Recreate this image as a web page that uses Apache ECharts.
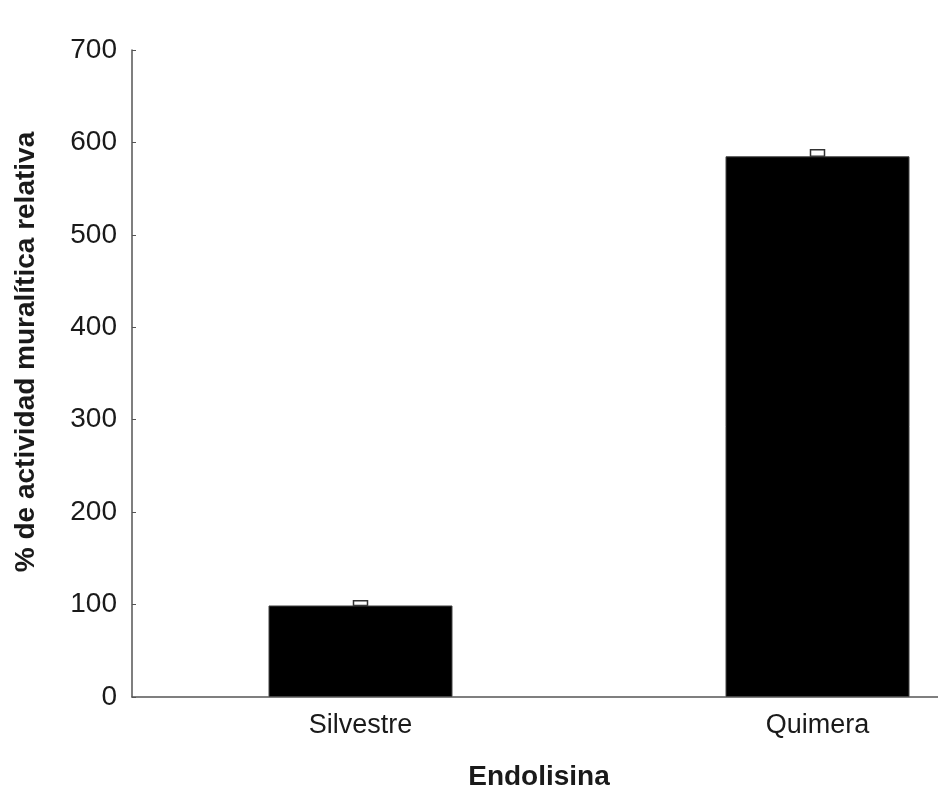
<!DOCTYPE html>
<html>
<head>
<meta charset="utf-8">
<script src="https://cdn.jsdelivr.net/npm/echarts@6/dist/echarts.min.js"></script>
<style>
  html, body { margin: 0; padding: 0; background: #fff; overflow: hidden; }
  /* the plot runs past the right edge of the picture, so the canvas is wider than the window */
  #chart { width: 1046px; height: 799px; }
</style>
</head>
<body>
<div id="chart"></div>
<script>
// data
var categories = ["Silvestre", "Quimera"];
var actividad = [99, 585];
var errores = [5, 7];
var yTicks = [0, 100, 200, 300, 400, 500, 600, 700];

var chart = echarts.init(document.getElementById("chart"));

var errData = categories.map(function (c, i) {
  return [i, actividad[i], actividad[i] + errores[i]];
});

chart.setOption({
  backgroundColor: "#fff",
  animation: false,
  grid: {
    left: 132,
    top: 50,
    bottom: 102,
    right: 0
  },
  xAxis: {
    type: "category",
    data: categories,
    axisLine: { lineStyle: { color: "#555", width: 1.5 } },
    axisTick: { show: false },
    axisLabel: {
      color: "#1a1a1a",
      fontSize: 27,
      fontFamily: "Liberation Sans, Arial",
      margin: 15
    }
  },
  yAxis: {
    type: "value",
    min: yTicks[0],
    max: yTicks[yTicks.length - 1],
    interval: 100,
    splitLine: { show: false },
    axisLine: { show: true, lineStyle: { color: "#555", width: 1.5 } },
    axisTick: { show: true, inside: true, length: 4, lineStyle: { color: "#555" } },
    axisLabel: {
      color: "#1a1a1a",
      fontSize: 28,
      fontFamily: "Liberation Sans, Arial",
      margin: 15
    }
  },
  graphic: [
    {
      type: "text",
      x: 26,
      y: 352,
      rotation: Math.PI / 2,
      style: {
        text: "% de actividad muralítica relativa",
        fill: "#1a1a1a",
        font: "bold 28px 'Liberation Sans', Arial",
        align: "center",
        verticalAlign: "middle"
      }
    },
    {
      type: "text",
      x: 539,
      y: 777,
      style: {
        text: "Endolisina",
        fill: "#1a1a1a",
        font: "bold 28px 'Liberation Sans', Arial",
        align: "center",
        verticalAlign: "middle"
      }
    }
  ],
  series: [
    {
      type: "bar",
      data: actividad,
      barWidth: 184,
      itemStyle: { color: "#000", borderColor: "#444", borderWidth: 1 }
    },
    {
      type: "custom",
      data: errData,
      z: 1,
      renderItem: function (params, api) {
        var lo = api.coord([api.value(0), api.value(1)]);
        var hi = api.coord([api.value(0), api.value(2)]);
        return {
          type: "rect",
          shape: { x: lo[0] - 7, y: hi[1], width: 14, height: lo[1] - hi[1] },
          style: { fill: "none", stroke: "#333", lineWidth: 1.5 }
        };
      }
    }
  ]
});
</script>
</body>
</html>
